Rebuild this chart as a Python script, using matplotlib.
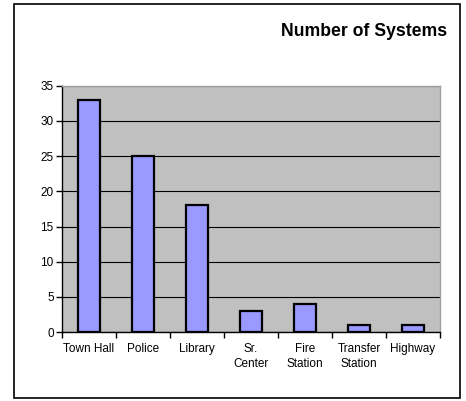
import matplotlib
matplotlib.use("Agg")
import matplotlib.pyplot as plt
from matplotlib.patches import Rectangle

categories = ["Town Hall", "Police", "Library", "Sr.\nCenter", "Fire\nStation",
              "Transfer\nStation", "Highway"]
systems = [33, 25, 18, 3, 4, 1, 1]
y_ticks = [0, 5, 10, 15, 20, 25, 30, 35]

plt.rcParams['font.family'] = ['Liberation Sans', 'DejaVu Sans']

fig = plt.figure(figsize=(4.66, 4.01), dpi=100)
ax = fig.add_axes([0.133, 0.172, 0.811, 0.614])

# chart border
fig.patches.append(Rectangle((14 / 466, 3 / 401), 446 / 466, 394 / 401,
                             transform=fig.transFigure, fill=False,
                             edgecolor="black", linewidth=1.2))

x = list(range(len(categories)))
ax.bar(x, systems, width=0.41, color="#9999FF", edgecolor="black", linewidth=1.6, zorder=3)

ax.set_facecolor("#C0C0C0")
ax.set_xlim(-0.5, len(categories) - 0.5)
ax.set_ylim(0, 35)
ax.set_yticks(y_ticks)
ax.yaxis.grid(True, color="black", linewidth=0.8, zorder=1)
ax.set_axisbelow(True)

ax.set_xticks(x)
ax.set_xticklabels(categories, fontsize=8.5, linespacing=1.3)
ax.tick_params(axis="x", length=0, pad=8)
ax.set_xticks([i + 0.5 for i in range(-1, len(categories))], minor=True)
ax.tick_params(axis="x", which="minor", length=4, width=1, direction="out")
ax.tick_params(axis="y", labelsize=8.5, length=4, width=1, direction="out", pad=2)

for side in ["top", "right"]:
    ax.spines[side].set_color("#A0A0A0")
    ax.spines[side].set_linewidth(1)
for side in ["left", "bottom"]:
    ax.spines[side].set_color("black")
    ax.spines[side].set_linewidth(1)

fig.text(447 / 466, 1 - 31 / 401, "Number of Systems", ha="right", va="center",
         fontsize=12.7, fontweight="bold")

fig.savefig("out.png", dpi=100)
